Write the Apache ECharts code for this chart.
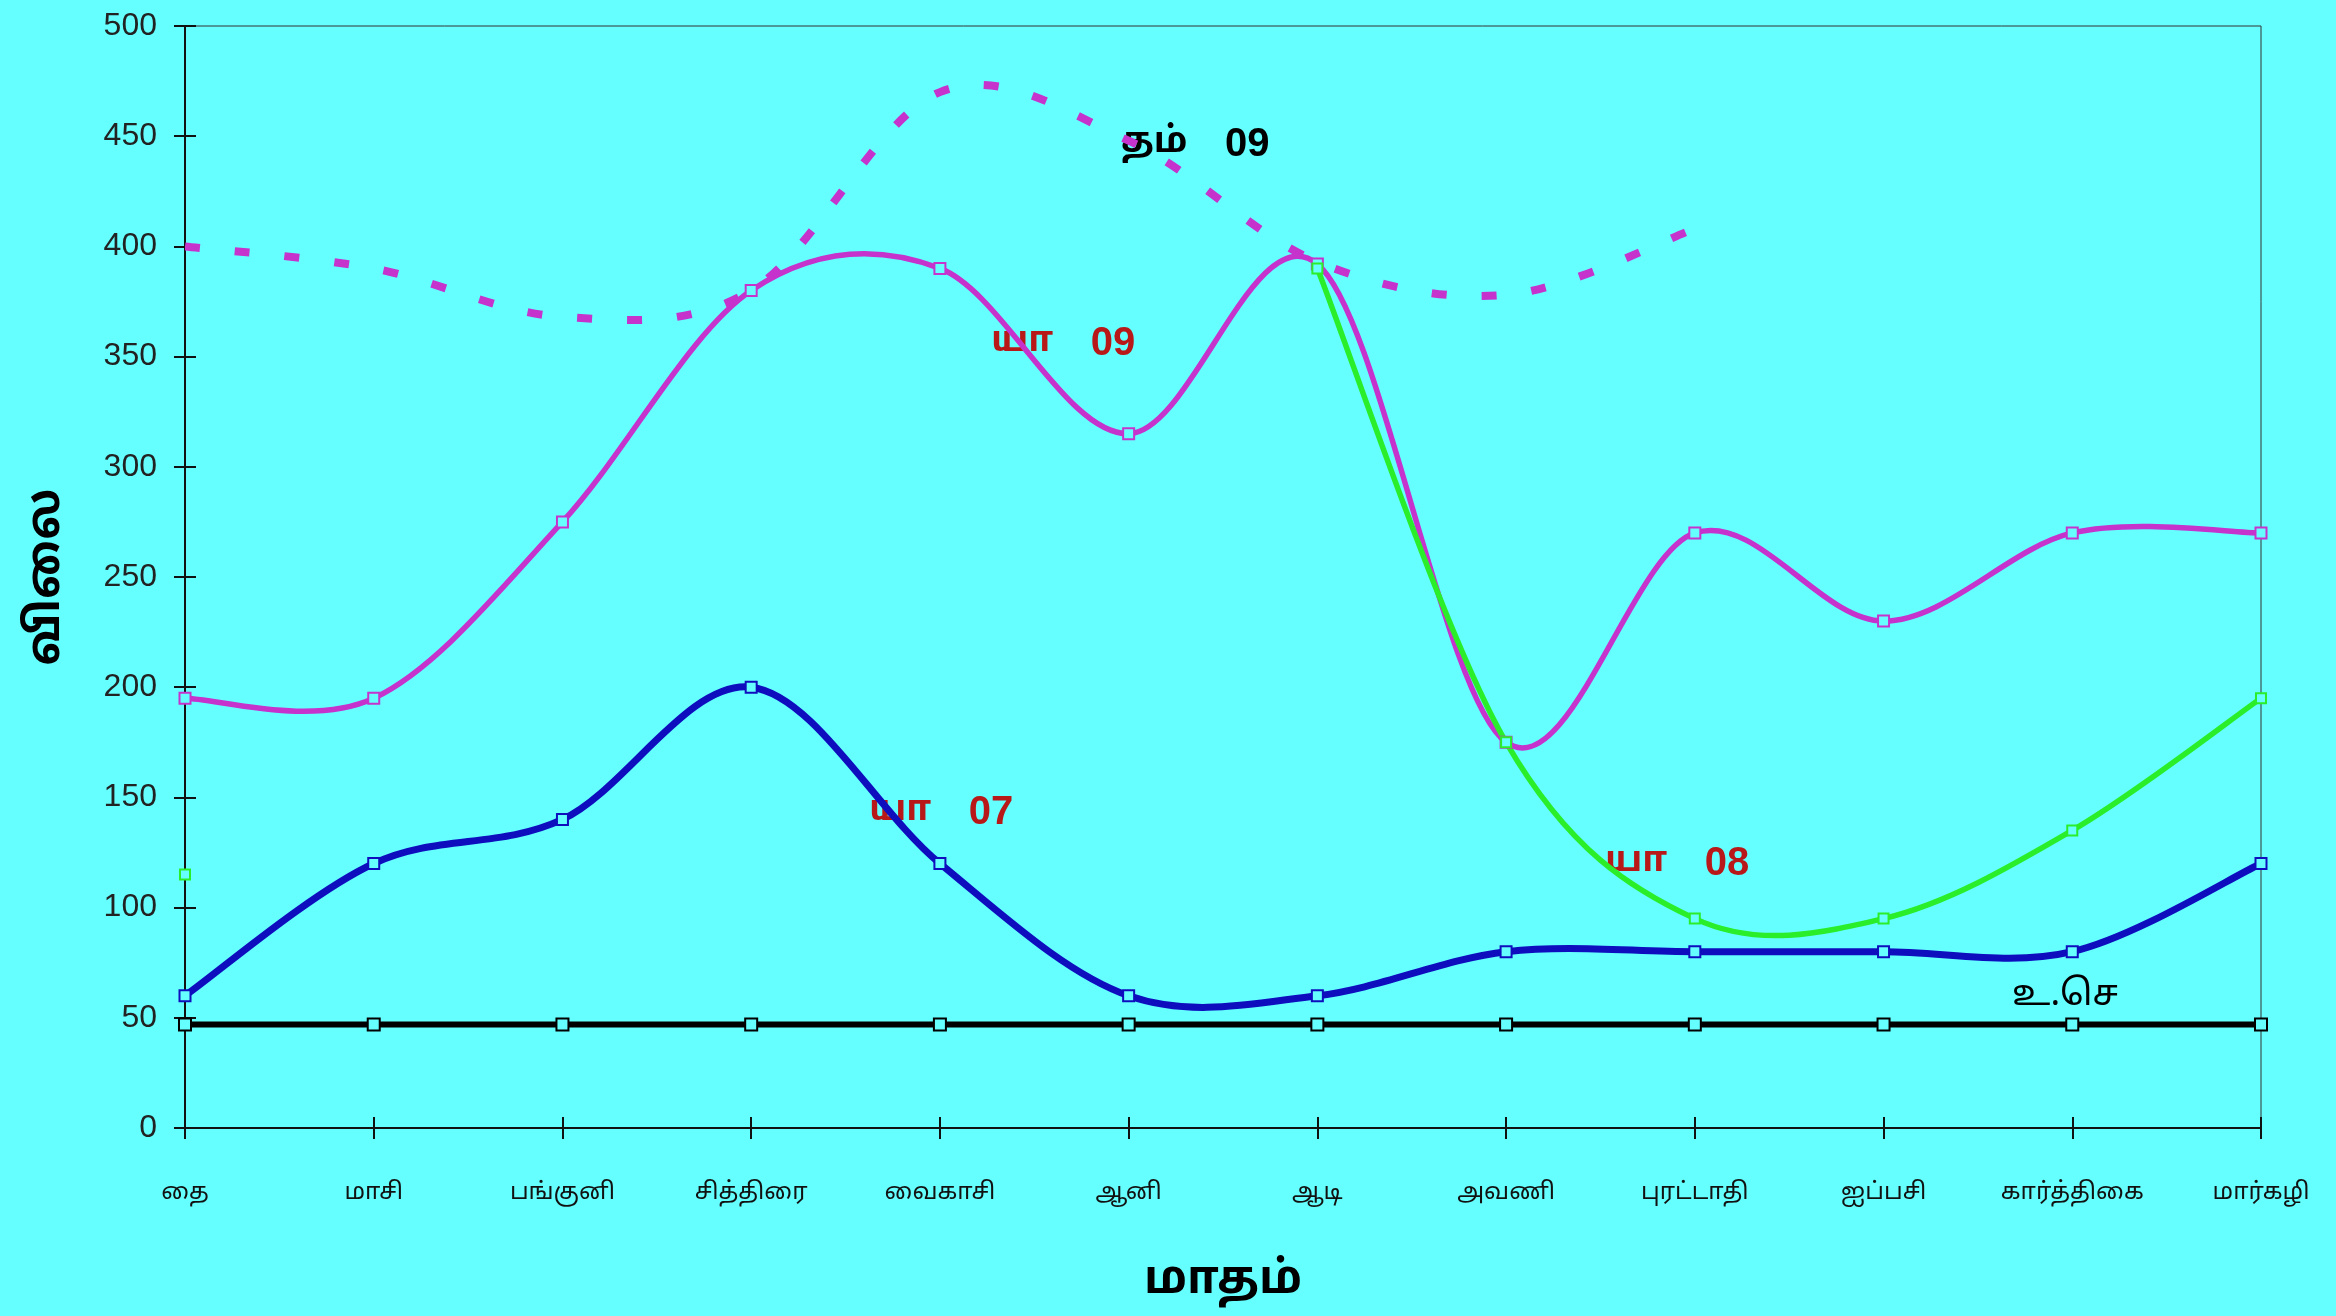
<!DOCTYPE html>
<html>
<head>
<meta charset="utf-8">
<script src="https://cdn.jsdelivr.net/npm/echarts@6/dist/echarts.min.js"></script>
<style>
html,body{margin:0;padding:0;background:#66FFFF;}
#chart{width:2336px;height:1316px;}
</style>
</head>
<body>
<div id="chart"></div>
<script>
// ---- data ----
const months = ['தை','மாசி','பங்குனி','சித்திரை','வைகாசி','ஆனி','ஆடி','அவணி','புரட்டாதி','ஐப்பசி','கார்த்திகை','மார்கழி'];
const yTicks = [0, 50, 100, 150, 200, 250, 300, 350, 400, 450, 500];
const tham09 = [400, 390, 368, 380, 470, 448, 393, 378, 408, null, null, null];
const ya09   = [195, 195, 275, 380, 390, 315, 392, 175, 270, 230, 270, 270];
const ya07   = [60, 120, 140, 200, 120, 60, 60, 80, 80, 80, 80, 120];
const ya08   = [115, null, null, null, null, null, 390, 175, 95, 95, 135, 195];
const uce    = [47, 47, 47, 47, 47, 47, 47, 47, 47, 47, 47, 47];
const seriesNames = ['தம் 09', 'யா 09', 'யா 07', 'யா 08', 'உ.செ'];

const BG = '#66FFFF';
const TAMIL = "'Noto Sans Tamil','Lohit Tamil','Latha',sans-serif";
const NUM = "'Liberation Sans',Arial,sans-serif";
const MAGENTA = '#C633CC', BLUE = '#0E0EBE', GREEN = '#2AEE2A', BLACK = '#000000', RED = '#B81818';

const chart = echarts.init(document.getElementById('chart'), null, {renderer: 'canvas'});

function marker(c) {
  return {color: BG, borderColor: c, borderWidth: 2};
}

// Smooth curve (Catmull-Rom style Bezier, like a spreadsheet "smoothed line")
// drawn through the data points mapped by the axes.
function curveSeries(name, arr, stroke, width, dash, z) {
  return {
    name: name, type: 'custom', xAxisIndex: 0, yAxisIndex: 0, z: z, clip: true,
    data: arr.map((v, i) => [i, v]),
    encode: {x: 0, y: 1},
    renderItem: function (params, api) {
      if (params.dataIndex !== 0) return null;
      const segs = [];
      let cur = [];
      for (let i = 0; i < arr.length; i++) {
        if (arr[i] == null) { if (cur.length) segs.push(cur); cur = []; }
        else cur.push(api.coord([i, arr[i]]));
      }
      if (cur.length) segs.push(cur);
      let d = '';
      segs.forEach(p => {
        if (p.length < 2) return;
        d += 'M' + p[0][0] + ' ' + p[0][1];
        for (let k = 0; k < p.length - 1; k++) {
          const p0 = p[k - 1] || p[k], p1 = p[k], p2 = p[k + 1], p3 = p[k + 2] || p[k + 1];
          const c1x = p1[0] + (p2[0] - p0[0]) / 6, c1y = p1[1] + (p2[1] - p0[1]) / 6;
          const c2x = p2[0] - (p3[0] - p1[0]) / 6, c2y = p2[1] - (p3[1] - p1[1]) / 6;
          d += 'C' + c1x + ' ' + c1y + ' ' + c2x + ' ' + c2y + ' ' + p2[0] + ' ' + p2[1];
        }
      });
      return {
        type: 'path', shape: {pathData: d},
        style: {fill: 'none', stroke: stroke, lineWidth: width, lineDash: dash || null, lineCap: 'butt', lineJoin: 'round'}
      };
    }
  };
}

function markerSeries(name, arr, c, size, z) {
  return {
    name: name, type: 'line', data: arr, symbol: 'rect', symbolSize: size, showSymbol: true,
    lineStyle: {width: 0, opacity: 0}, itemStyle: marker(c), z: z, connectNulls: false
  };
}

const baseX = {
  type: 'category', data: months, boundaryGap: false,
  axisLine: {show: true, lineStyle: {color: '#111', width: 2}},
  splitLine: {show: false}
};
const baseY = {
  type: 'value', min: 0, max: 500, interval: 50,
  axisLine: {show: true, lineStyle: {color: '#111', width: 2}},
  splitLine: {show: false}
};

function annot(left, top, word, num, color, bold) {
  return {
    type: 'text', left: left, top: top,
    style: {
      text: '{w|' + word + '}{n|' + num + '}',
      rich: {
        w: {fontFamily: TAMIL, fontSize: 36, fontWeight: bold ? 'bold' : 'normal', fill: color, color: color},
        n: {fontFamily: NUM, fontSize: 40, fontWeight: 'bold', fill: color, color: color}
      },
      fill: color
    }
  };
}

chart.setOption({
  animation: false,
  backgroundColor: BG,
  grid: {left: 185, right: 75, top: 26, bottom: 188, show: true, borderColor: '#333', borderWidth: 1, backgroundColor: 'transparent'},
  xAxis: [
    Object.assign({}, baseX, {
      axisTick: {show: true, length: 11, lineStyle: {color: '#111', width: 2}},
      axisLabel: {margin: 54, color: '#111', fontSize: 24, fontFamily: TAMIL},
      name: 'மாதம்', nameLocation: 'middle', nameGap: 133,
      nameTextStyle: {fontSize: 46, fontWeight: 'bold', color: '#000', fontFamily: TAMIL}
    }),
    Object.assign({}, baseX, {
      position: 'bottom',
      axisTick: {show: true, inside: true, length: 11, lineStyle: {color: '#111', width: 2}},
      axisLabel: {show: false}
    })
  ],
  yAxis: [
    Object.assign({}, baseY, {
      axisTick: {show: true, length: 11, lineStyle: {color: '#111', width: 2}},
      axisLabel: {margin: 28, color: '#222', fontSize: 32, fontFamily: NUM,
        formatter: v => yTicks.indexOf(v) >= 0 ? String(v) : ''},
      name: 'விலை', nameLocation: 'middle', nameGap: 112, nameRotate: 90,
      nameTextStyle: {fontSize: 46, fontWeight: 'bold', color: '#000', fontFamily: TAMIL}
    }),
    Object.assign({}, baseY, {
      position: 'left',
      axisTick: {show: true, inside: true, length: 11, lineStyle: {color: '#111', width: 2}},
      axisLabel: {show: false}
    })
  ],
  series: [
    curveSeries(seriesNames[0], tham09, MAGENTA, 8, [15, 35], 2),
    curveSeries(seriesNames[1], ya09, MAGENTA, 5.5, null, 3),
    curveSeries(seriesNames[2], ya07, BLUE, 7, null, 4),
    curveSeries(seriesNames[3], ya08, GREEN, 5.5, null, 5),
    {
      name: seriesNames[4], type: 'line', data: uce, smooth: false, symbol: 'rect', symbolSize: 12,
      lineStyle: {color: BLACK, width: 6}, itemStyle: marker(BLACK), z: 6
    },
    markerSeries(seriesNames[1], ya09, MAGENTA, 11, 7),
    markerSeries(seriesNames[2], ya07, BLUE, 11, 8),
    markerSeries(seriesNames[3], ya08, GREEN, 10, 9)
  ],
  graphic: [
    annot(1121, 125, 'தம்    ', '09', '#000', true),
    annot(991, 324, 'யா    ', '09', RED, true),
    annot(869, 793, 'யா    ', '07', RED, true),
    annot(1605, 844, 'யா    ', '08', RED, true),
    {type: 'text', left: 2012, top: 980, style: {text: 'உ.செ', font: "36px " + TAMIL, fill: '#000'}}
  ]
});
</script>
</body>
</html>
